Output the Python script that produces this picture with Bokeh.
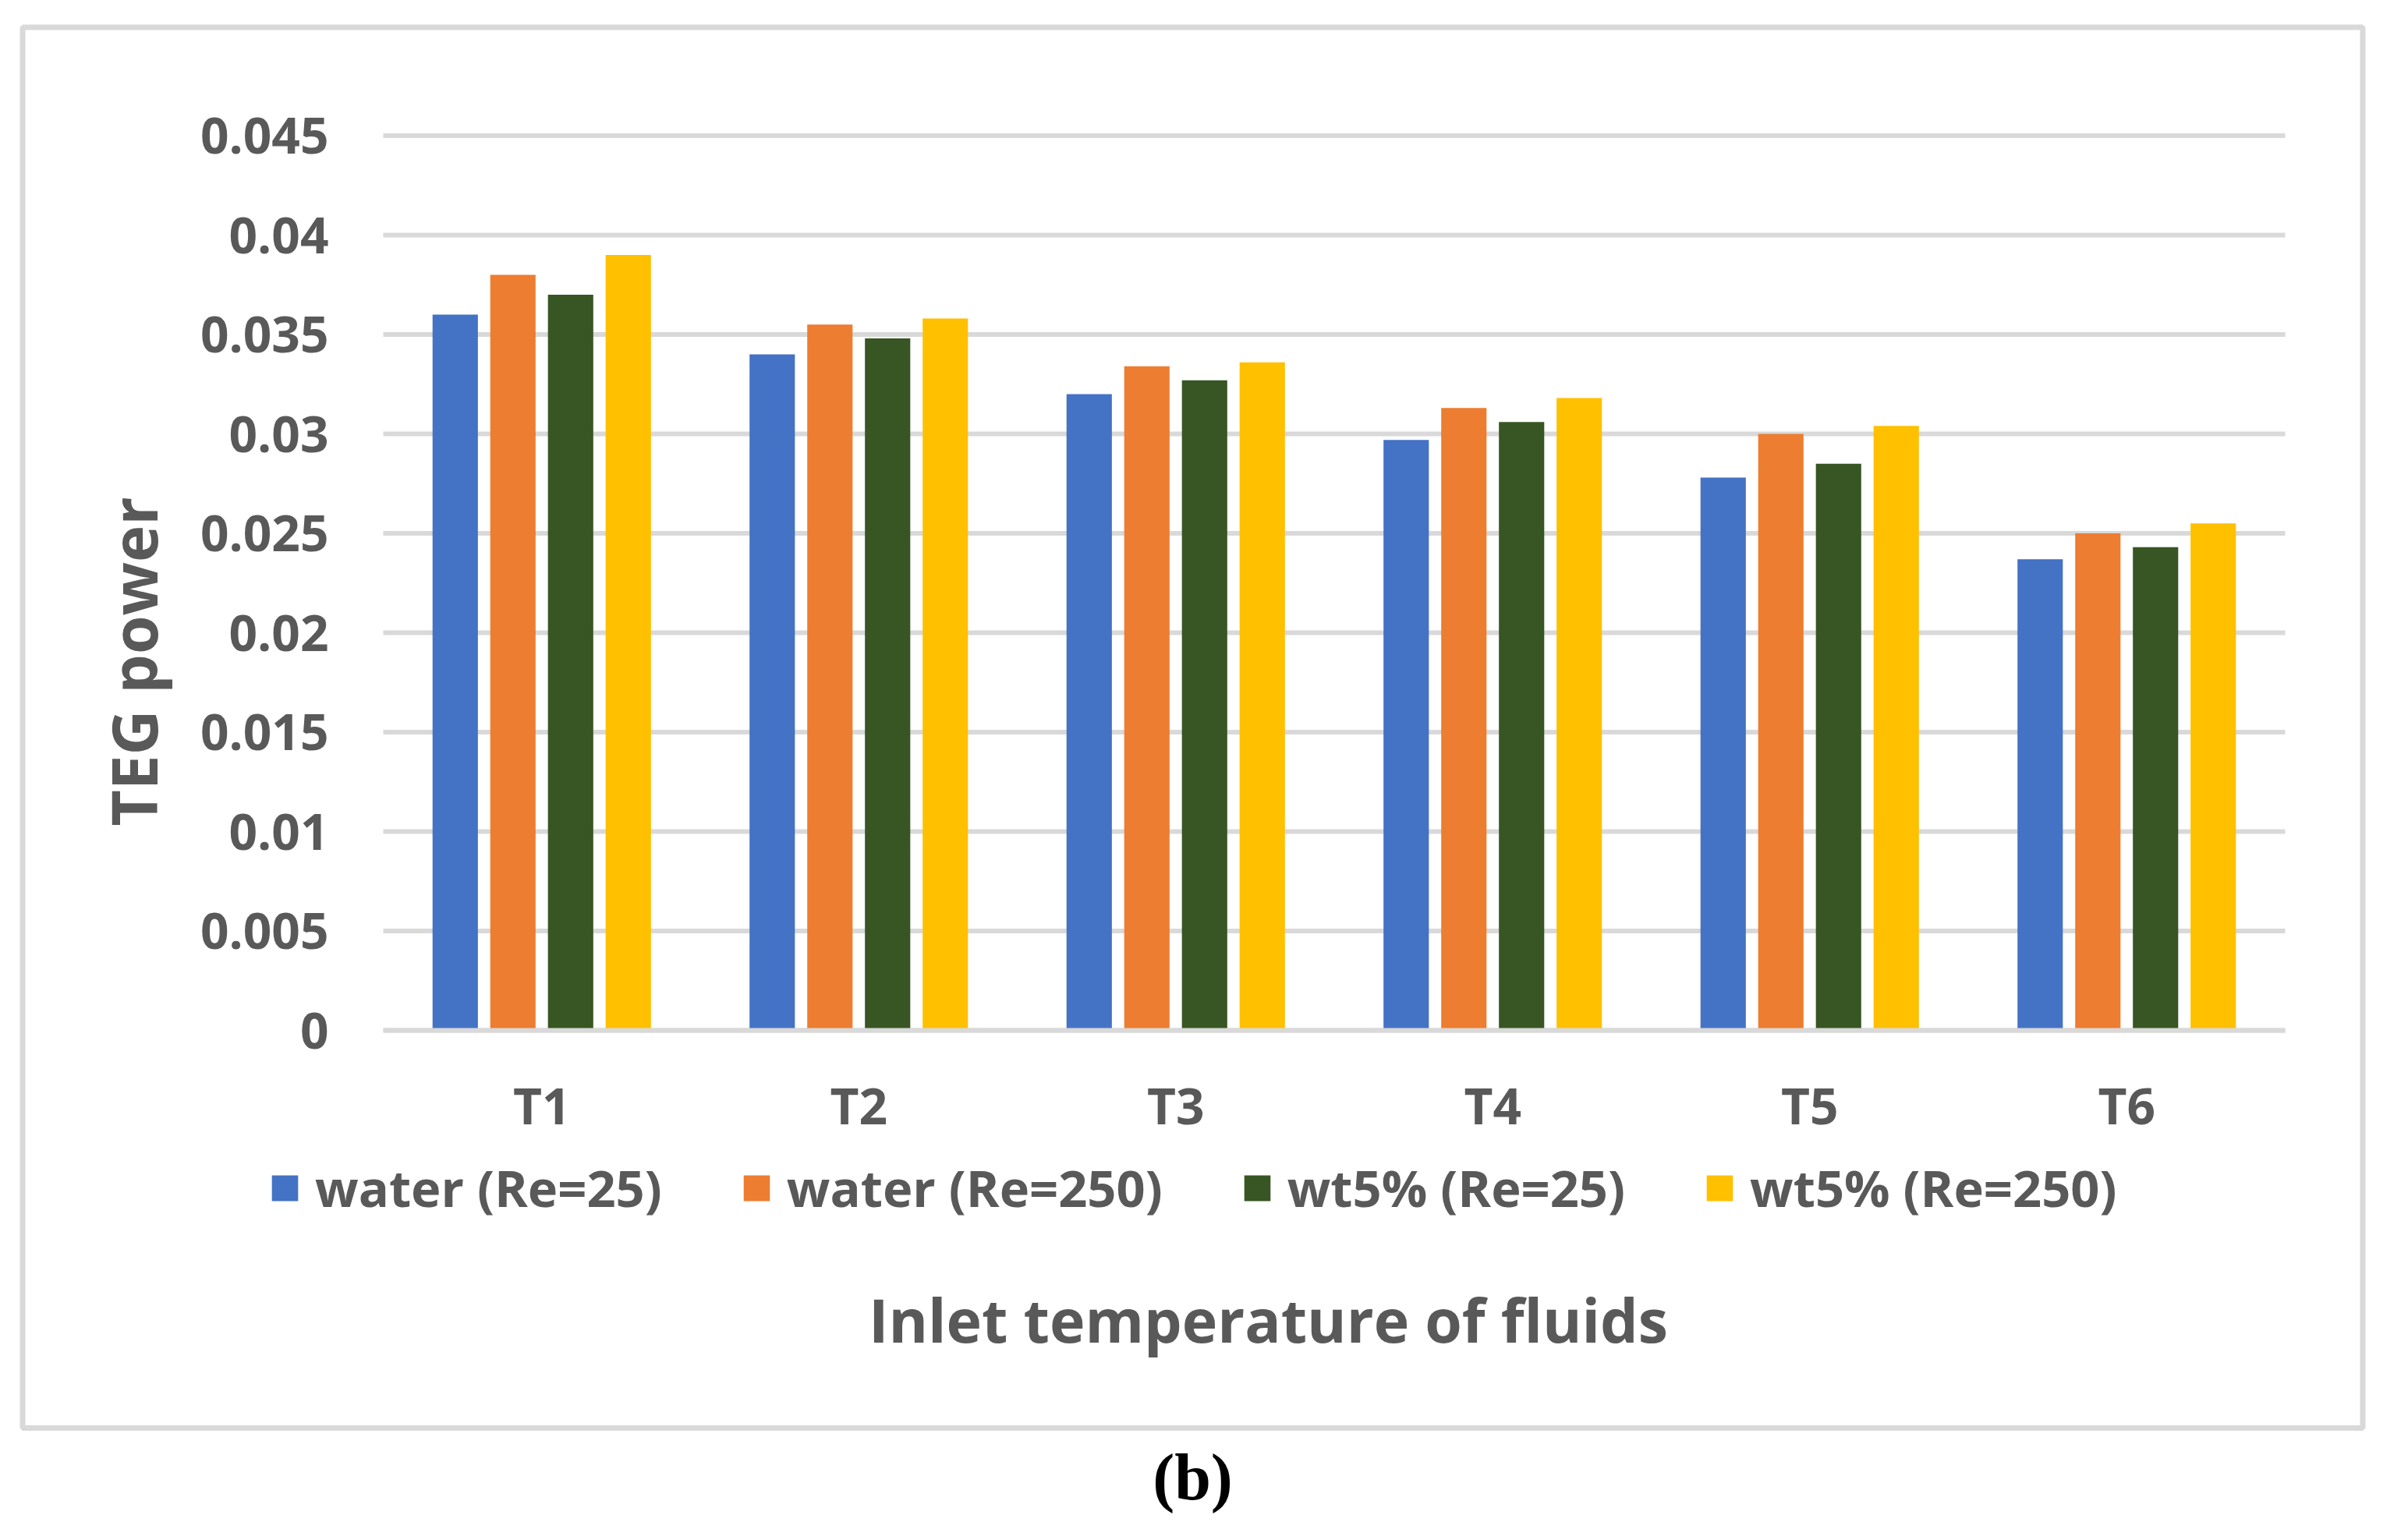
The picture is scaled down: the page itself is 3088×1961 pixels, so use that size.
import math
from bokeh.plotting import figure
from bokeh.models import (ColumnDataSource, Range1d, FixedTicker, LinearAxis,
                          Legend, LegendItem, Label, BoxAnnotation)
from bokeh.transform import dodge
from bokeh.embed import file_html
from bokeh.resources import INLINE

# ---- data ----
categories = ["T1", "T2", "T3", "T4", "T5", "T6"]
series_names = ["water (Re=25)", "water (Re=250)", "wt5% (Re=25)", "wt5% (Re=250)"]
water_re25 = [0.0360, 0.0340, 0.0320, 0.0297, 0.0278, 0.0237]
water_re250 = [0.0380, 0.0355, 0.0334, 0.0313, 0.0300, 0.0250]
wt5_re25 = [0.0370, 0.0348, 0.0327, 0.0306, 0.0285, 0.0243]
wt5_re250 = [0.0390, 0.0358, 0.0336, 0.0318, 0.0304, 0.0255]
y_ticks = [0, 0.005, 0.01, 0.015, 0.02, 0.025, 0.03, 0.035, 0.04, 0.045]
y_tick_labels = ["0", "0.005", "0.01", "0.015", "0.02", "0.025", "0.03", "0.035", "0.04", "0.045"]
x_title = "Inlet temperature of fluids"
y_title = "TEG power"
caption = "(b)"

# ---- style ----
colors = ["#4472C4", "#ED7D31", "#375623", "#FFC000"]
offsets = [-0.273, -0.091, 0.091, 0.273]
bar_w = 0.143
GRAY = "#595959"
GRID = "#D9D9D9"
FONT = "Open Sans"

# category slots on a numeric scale: slot i spans [i, i+1]
x_pos = [i + 0.5 for i in range(len(categories))]
source = ColumnDataSource(data=dict(x=x_pos, cat=categories, s0=water_re25, s1=water_re250,
                                    s2=wt5_re25, s3=wt5_re250))

W, H = 3072, 1945
PX_X = 406.5          # px per category slot
PX_Y = 25500.0        # px per unit of power
X0 = 491              # canvas px of plot-area left (x = 0)
Y0 = 1321             # canvas px (from top) of y = 0

p = figure(width=W, height=H,
           x_range=Range1d(-X0 / PX_X, (W - X0) / PX_X),
           y_range=Range1d(-(H - Y0) / PX_Y, Y0 / PX_Y),
           x_axis_location=None, y_axis_location=None,
           output_backend="svg", toolbar_location=None, min_border=0)
p.background_fill_color = "white"
p.border_fill_color = "white"
p.outline_line_color = None
p.grid.visible = False

n_cat = len(categories)
# horizontal gridlines (plot area only)
p.segment(x0=[0] * len(y_ticks), x1=[n_cat] * len(y_ticks), y0=y_ticks, y1=y_ticks,
          line_color=GRID, line_width=6)

renderers = []
for i, key in enumerate(["s0", "s1", "s2", "s3"]):
    r = p.vbar(x=dodge("x", offsets[i]), top=key, width=bar_w, bottom=0,
               source=source, fill_color=colors[i], line_color=None)
    renderers.append(r)

# zero line on top of bars
p.segment(x0=[0], x1=[n_cat], y0=[y_ticks[0]], y1=[y_ticks[0]], line_color=GRID, line_width=6)

# axes at fixed locations
yax = LinearAxis(fixed_location=0, ticker=FixedTicker(ticks=y_ticks),
                 major_label_overrides={t: l for t, l in zip(y_ticks, y_tick_labels)})
xax = LinearAxis(fixed_location=0, ticker=FixedTicker(ticks=x_pos),
                 major_label_overrides={x: c for x, c in zip(x_pos, categories)})
for ax in (xax, yax):
    ax.axis_line_color = None
    ax.major_tick_line_color = None
    ax.minor_tick_line_color = None
    ax.major_tick_out = 0
    ax.major_tick_in = 0
    ax.minor_tick_out = 0
    ax.minor_tick_in = 0
    ax.major_label_text_color = GRAY
    ax.major_label_text_font = FONT
    ax.major_label_text_font_style = "bold"
    ax.major_label_text_font_size = "64px"
yax.major_label_standoff = 70
xax.major_label_standoff = 52
p.add_layout(yax, "left")
p.add_layout(xax, "below")

# reference-pixel helpers (screen units: from canvas left / canvas bottom)
def sx(x):
    return x - 8

def sy(y):
    return H + 8 - y

# outer box
p.add_layout(BoxAnnotation(left=sx(36.5), right=sx(3037.5), top=sy(42.5), bottom=sy(1839),
                           left_units="screen", right_units="screen", top_units="screen",
                           bottom_units="screen", fill_color=None, fill_alpha=0,
                           line_color=GRID, line_alpha=1.0, line_width=7))

# axis titles and caption
p.add_layout(Label(x=sx(178), y=sy(856), x_units="screen", y_units="screen", text=y_title,
                   angle=math.pi / 2, text_align="center", text_baseline="middle",
                   text_font=FONT, text_font_style="bold", text_font_size="80px",
                   text_color=GRAY))
p.add_layout(Label(x=sx(1634), y=sy(1700), x_units="screen", y_units="screen", text=x_title,
                   text_align="center", text_baseline="alphabetic",
                   text_font=FONT, text_font_style="bold", text_font_size="77px",
                   text_color=GRAY))
p.add_layout(Label(x=sx(1537), y=sy(1902), x_units="screen", y_units="screen", text=caption,
                   text_align="center", text_baseline="alphabetic",
                   text_font="Liberation Serif", text_font_style="bold",
                   text_font_size="84px", text_color="black"))

# legend
legend = Legend(items=[LegendItem(label=n, renderers=[r]) for n, r in zip(series_names, renderers)],
                location=(sx(352), sy(1575)), orientation="horizontal",
                glyph_width=42, glyph_height=41, label_height=41, label_standoff=18,
                spacing=100, padding=0, margin=0, border_line_color=None,
                background_fill_alpha=0, label_text_font=FONT, label_text_font_style="bold",
                label_text_font_size="65px", label_text_color=GRAY)
p.add_layout(legend, "center")

open("out.html", "w").write(file_html(p, INLINE))
